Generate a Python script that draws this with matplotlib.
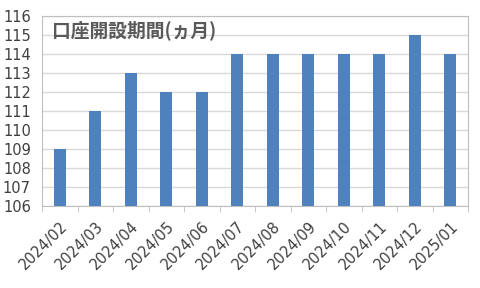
import numpy as np
import matplotlib.pyplot as plt

plt.rcParams['font.family'] = ['DejaVu Sans', 'Noto Sans CJK JP']

months = ["2024/02", "2024/03", "2024/04", "2024/05", "2024/06", "2024/07",
          "2024/08", "2024/09", "2024/10", "2024/11", "2024/12", "2025/01"]
period = [109, 111, 113, 112, 112, 114, 114, 114, 114, 114, 115, 114]
yticks = list(range(106, 117))

fig = plt.figure(figsize=(4.8, 2.88), dpi=100)
ax = fig.add_axes([42 / 480, 1 - 206 / 288, 426 / 480, 190 / 288])

x = np.arange(len(months))
base = 106
ax.bar(x, np.array(period) - base, bottom=base, width=0.34, color="#4f81bd", zorder=3)

ax.set_xlim(-0.5, len(months) - 0.5)
ax.set_ylim(106, 116)
ax.set_yticks(yticks)
ax.set_yticklabels([str(v) for v in yticks], fontsize=10.5, color="#404040")
ax.yaxis.grid(True, color="#d9d9d9", linewidth=1, zorder=0)
ax.tick_params(axis="y", length=0, pad=8)

ax.set_xticks(x)
ax.set_xticklabels(months, rotation=45, ha="right", rotation_mode="anchor",
                   fontsize=10.5, color="#404040")
ax.set_xticks(np.arange(-0.5, len(months)), minor=True)
ax.tick_params(axis="x", which="major", length=0, pad=9)
ax.tick_params(axis="x", which="minor", length=4, color="#bfbfbf")

for side in ["left", "right", "top", "bottom"]:
    ax.spines[side].set_color("#bfbfbf")

ax.text(0.024, 0.926, "口座開設期間(ヵ月)", transform=ax.transAxes,
        family=["Noto Sans CJK JP", "DejaVu Sans"],
        fontsize=13.5, color="#595959", fontweight="bold", va="center", ha="left")

fig.savefig("out.png", dpi=100)
